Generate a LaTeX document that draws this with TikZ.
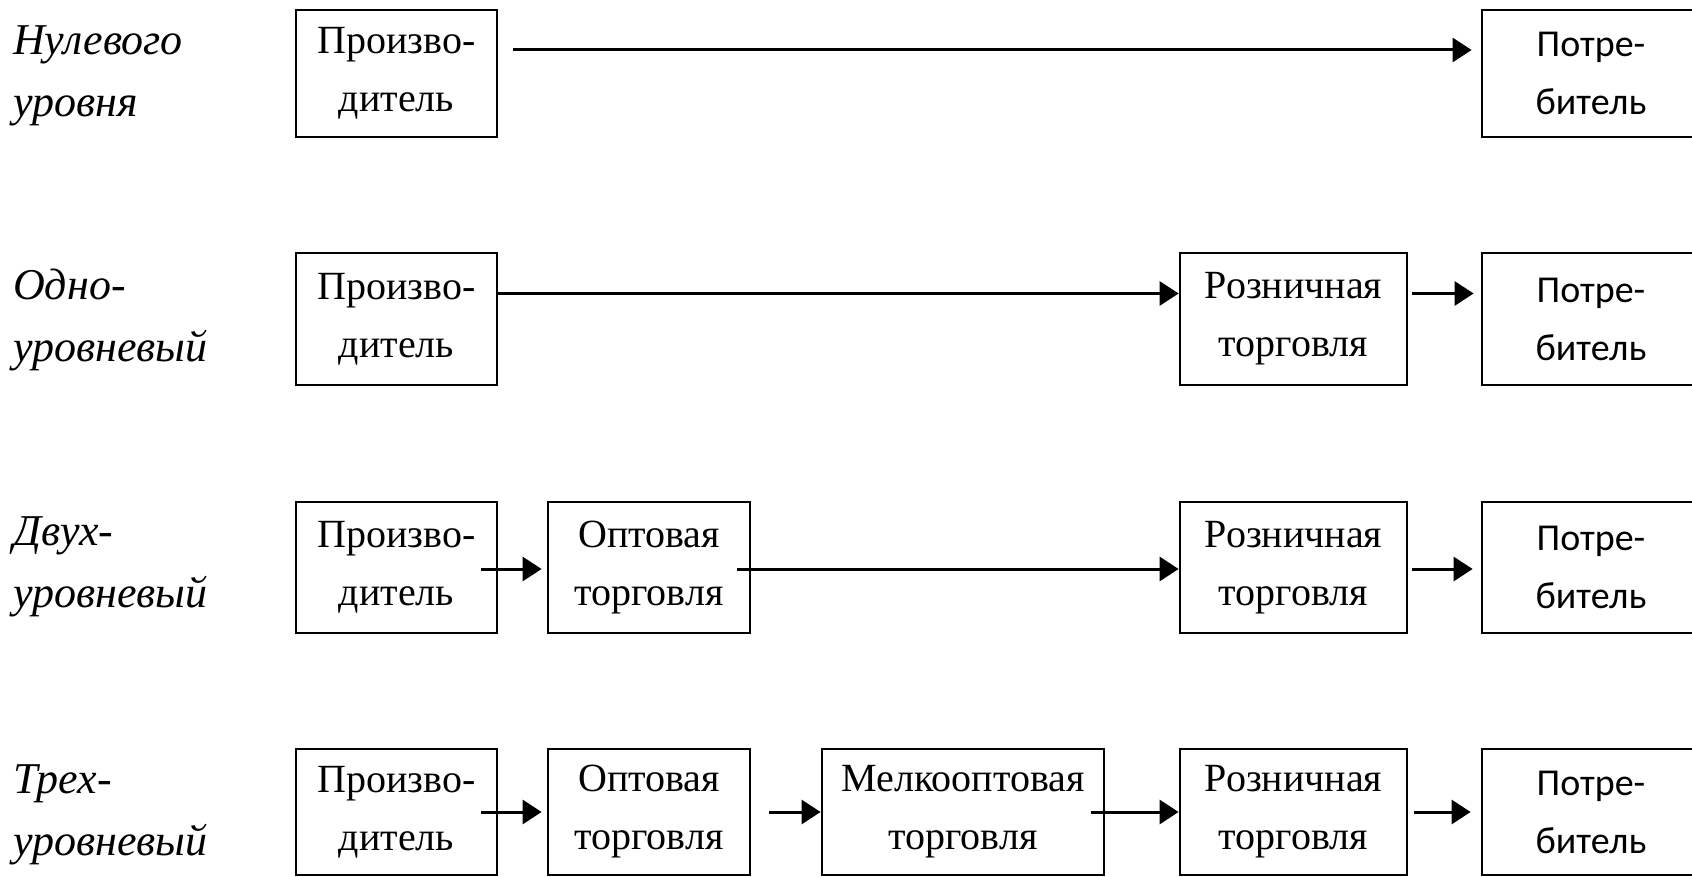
\documentclass[tikz,border=0pt]{standalone}
\usepackage{fontspec}
\setmainfont{Liberation Serif}
\newfontfamily\sansf{Carlito}
\usetikzlibrary{arrows.meta}
\tikzset{
  box/.style={draw, line width=2.8pt, inner sep=0pt, align=center},
  sbox/.style={box, font={\fontsize{40}{58}\selectfont}},
  cbox/.style={box, font={\sansf\fontsize{38}{58}\selectfont}},
  lab/.style={anchor=west, align=left, inner sep=0pt, font={\itshape\fontsize{44}{62}\selectfont}},
  arr/.style={line width=3pt, -{Triangle[length=19pt,width=24pt]}},
}
\begin{document}
\begin{tikzpicture}[x=1pt,y=-1pt]
\useasboundingbox (0,0) rectangle (1692,877);
\clip (0,0) rectangle (1692,877);
% row 1
\node[lab] (l1) at (13,76) {Нулевого\\уровня};
\node[sbox, minimum width=201pt, minimum height=127pt] (p1) at (396.5,73.5) {Произво-\\дитель};
\node[cbox, minimum width=218pt, minimum height=127pt] (c1) at (1591,73.5) {Потре-\\битель};
\coordinate (y1) at (0,50);
\draw[arr] ([xshift=15pt]p1.east |- y1) -- ([xshift=-9pt]c1.west |- y1);
% row 2
\node[lab] (l2) at (13,320) {Одно-\\уровневый};
\node[sbox, minimum width=201pt, minimum height=132pt] (p2) at (396.5,319) {Произво-\\дитель};
\node[sbox, minimum width=227pt, minimum height=132pt] (r2) at (1293.5,319) {Розничная\\торговля};
\node[cbox, minimum width=218pt, minimum height=132pt] (c2) at (1591,319) {Потре-\\битель};
\coordinate (y2) at (0,293.5);
\draw[arr] (p2.east |- y2) -- (r2.west |- y2);
\draw[arr] ([xshift=4pt]r2.east |- y2) -- ([xshift=-7pt]c2.west |- y2);
% row 3
\node[lab] (l3) at (13,566.5) {Двух-\\уровневый};
\node[sbox, minimum width=201pt, minimum height=131pt] (p3) at (396.5,567.5) {Произво-\\дитель};
\node[sbox, minimum width=202pt, minimum height=131pt] (o3) at (649,567.5) {Оптовая\\торговля};
\node[sbox, minimum width=227pt, minimum height=131pt] (r3) at (1293.5,567.5) {Розничная\\торговля};
\node[cbox, minimum width=218pt, minimum height=131pt] (c3) at (1591,567.5) {Потре-\\битель};
\coordinate (y3) at (0,569);
\draw[arr] ([xshift=-17pt]p3.east |- y3) -- ([xshift=-5pt]o3.west |- y3);
\draw[arr] ([xshift=-14pt]o3.east |- y3) -- (r3.west |- y3);
\draw[arr] ([xshift=4pt]r3.east |- y3) -- ([xshift=-8pt]c3.west |- y3);
% row 4
\node[lab] (l4) at (13,815) {Трех-\\уровневый};
\node[sbox, minimum width=201pt, minimum height=126pt] (p4) at (396.5,812) {Произво-\\дитель};
\node[sbox, minimum width=202pt, minimum height=126pt] (o4) at (649,812) {Оптовая\\торговля};
\node[sbox, minimum width=282pt, minimum height=126pt] (m4) at (963,812) {Мелкооптовая\\торговля};
\node[sbox, minimum width=227pt, minimum height=126pt] (r4) at (1293.5,812) {Розничная\\торговля};
\node[cbox, minimum width=218pt, minimum height=126pt] (c4) at (1591,812) {Потре-\\битель};
\coordinate (y4) at (0,812);
\draw[arr] ([xshift=-17pt]p4.east |- y4) -- ([xshift=-5pt]o4.west |- y4);
\draw[arr] ([xshift=18pt]o4.east |- y4) -- (m4.west |- y4);
\draw[arr] ([xshift=-14pt]m4.east |- y4) -- (r4.west |- y4);
\draw[arr] ([xshift=6pt]r4.east |- y4) -- ([xshift=-10pt]c4.west |- y4);
\end{tikzpicture}
\end{document}
